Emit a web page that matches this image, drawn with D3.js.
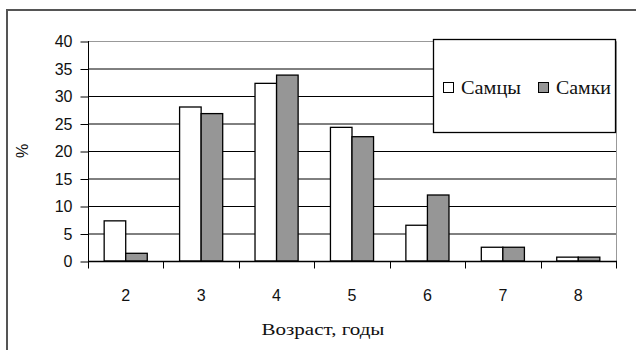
<!DOCTYPE html>
<html>
<head>
<meta charset="utf-8">
<script src="https://cdn.jsdelivr.net/npm/d3@7"></script>
<style>
  body { margin: 0; background: #fff; }
  .tick-label { font-family: "Liberation Sans", Arial, sans-serif; font-size: 16px; fill: #111; }
  .serif { font-family: "Liberation Serif", "Times New Roman", serif; font-size: 17px; fill: #111; }
</style>
</head>
<body>
<div id="chart"></div>
<script>
// Data
var ages = ["2", "3", "4", "5", "6", "7", "8"];
var males = [7.3, 28.0, 32.3, 24.3, 6.5, 2.5, 0.7];
var females = [1.4, 26.8, 33.8, 22.6, 12.0, 2.5, 0.7];
var seriesNames = ["Самцы", "Самки"];
var seriesColors = ["#ffffff", "#969696"];
var yTicks = [0, 5, 10, 15, 20, 25, 30, 35, 40];

function init() {
    var w = 636;
    var h = 350;
    var left = 88, right = 616, top = 41, bottom = 261;

    var svg = d3.select("#chart")
        .append("svg")
        .attr("width", w)
        .attr("height", h);

    // Outer frame
    svg.append("rect")
        .attr("x", 7).attr("y", 10)
        .attr("width", 640).attr("height", 345)
        .attr("fill", "none")
        .attr("stroke", "#555")
        .attr("stroke-width", 2);

    var x0 = d3.scaleBand().domain(ages).range([left, right]).padding(0);
    var x1 = d3.scaleBand().domain(seriesNames).range([0, x0.bandwidth()])
        .paddingInner(0).paddingOuter(0.75);
    var yScale = d3.scaleLinear().domain([0, 40]).range([bottom, top]);

    // Gridlines
    svg.append("g")
        .selectAll("line")
        .data(yTicks.filter(function(d) { return d > 0 && d < 40; }))
        .enter().append("line")
        .attr("x1", left).attr("x2", right)
        .attr("y1", function(d) { return yScale(d) + 0.5; })
        .attr("y2", function(d) { return yScale(d) + 0.5; })
        .attr("stroke", "#000")
        .attr("stroke-width", 1);

    // Plot area border (top and right)
    svg.append("path")
        .attr("d", "M" + left + "," + (top + 0.5) + "H" + (right + 0.5) + "V" + bottom)
        .attr("fill", "none")
        .attr("stroke", "#999")
        .attr("stroke-width", 1);

    // Bars
    var rows = ages.map(function(a, i) {
        return { age: a, values: [males[i], females[i]] };
    });
    var groups = svg.append("g").selectAll("g")
        .data(rows)
        .enter().append("g")
        .attr("transform", function(d) { return "translate(" + x0(d.age) + ",0)"; });
    groups.selectAll("rect")
        .data(function(d) {
            return d.values.map(function(v, j) { return { name: seriesNames[j], value: v, j: j }; });
        })
        .enter().append("rect")
        .attr("x", function(d) { return x1(d.name); })
        .attr("y", function(d) { return yScale(d.value); })
        .attr("width", x1.bandwidth())
        .attr("height", function(d) { return yScale(0) - yScale(d.value); })
        .attr("fill", function(d) { return seriesColors[d.j]; })
        .attr("stroke", "#000")
        .attr("stroke-width", 1.3);

    // Y axis
    var yAxis = d3.axisLeft(yScale).tickValues(yTicks).tickSize(8).tickPadding(8);
    var gy = svg.append("g")
        .attr("transform", "translate(" + (left + 0.5) + ",0.5)")
        .call(yAxis);
    gy.select(".domain").attr("stroke", "#000").attr("d", "M0," + (top - 0.5) + "V" + (bottom - 0.5));
    gy.selectAll(".tick line").attr("stroke", "#000");
    gy.selectAll("text").attr("class", "tick-label").attr("fill", null);

    // X axis: ticks at category boundaries, labels at centres
    var gx = svg.append("g").attr("transform", "translate(0," + (bottom + 0.5) + ")");
    gx.append("line")
        .attr("x1", left).attr("x2", right + 1)
        .attr("stroke", "#000").attr("stroke-width", 1.3);
    var bounds = ages.map(function(a) { return x0(a); }).concat([right]);
    gx.selectAll(".xt")
        .data(bounds)
        .enter().append("line")
        .attr("class", "xt")
        .attr("x1", function(d) { return Math.round(d) + 0.5; })
        .attr("x2", function(d) { return Math.round(d) + 0.5; })
        .attr("y1", 0).attr("y2", 7)
        .attr("stroke", "#000");
    gx.selectAll(".xl")
        .data(ages)
        .enter().append("text")
        .attr("class", "tick-label")
        .attr("x", function(d) { return x0(d) + x0.bandwidth() / 2; })
        .attr("y", 39)
        .attr("text-anchor", "middle")
        .text(function(d) { return d; });

    // Axis titles
    svg.append("text")
        .attr("class", "serif")
        .attr("x", 323).attr("y", 335)
        .attr("text-anchor", "middle")
        .attr("textLength", 123)
        .attr("lengthAdjust", "spacingAndGlyphs")
        .text("Возраст, годы");

    svg.append("text")
        .attr("class", "tick-label")
        .attr("transform", "translate(28,151) rotate(-90)")
        .attr("text-anchor", "middle")
        .text("%");

    // Legend
    var lg = svg.append("g");
    lg.append("rect")
        .attr("x", 433.5).attr("y", 39.5)
        .attr("width", 182).attr("height", 93)
        .attr("fill", "#fff")
        .attr("stroke", "#000")
        .attr("stroke-width", 1.3);
    var itemX = [443, 538];
    seriesNames.forEach(function(name, i) {
        lg.append("rect")
            .attr("x", itemX[i] + 0.5).attr("y", 82.5)
            .attr("width", 10).attr("height", 10)
            .attr("fill", seriesColors[i])
            .attr("stroke", "#000");
        lg.append("text")
            .attr("class", "serif")
            .attr("x", itemX[i] + 18).attr("y", 94)
            .attr("textLength", i === 0 ? 60 : 55)
            .attr("lengthAdjust", "spacingAndGlyphs")
            .style("font-size", "19px")
            .text(name);
    });
}

window.onload = init;
</script>
</body>
</html>
